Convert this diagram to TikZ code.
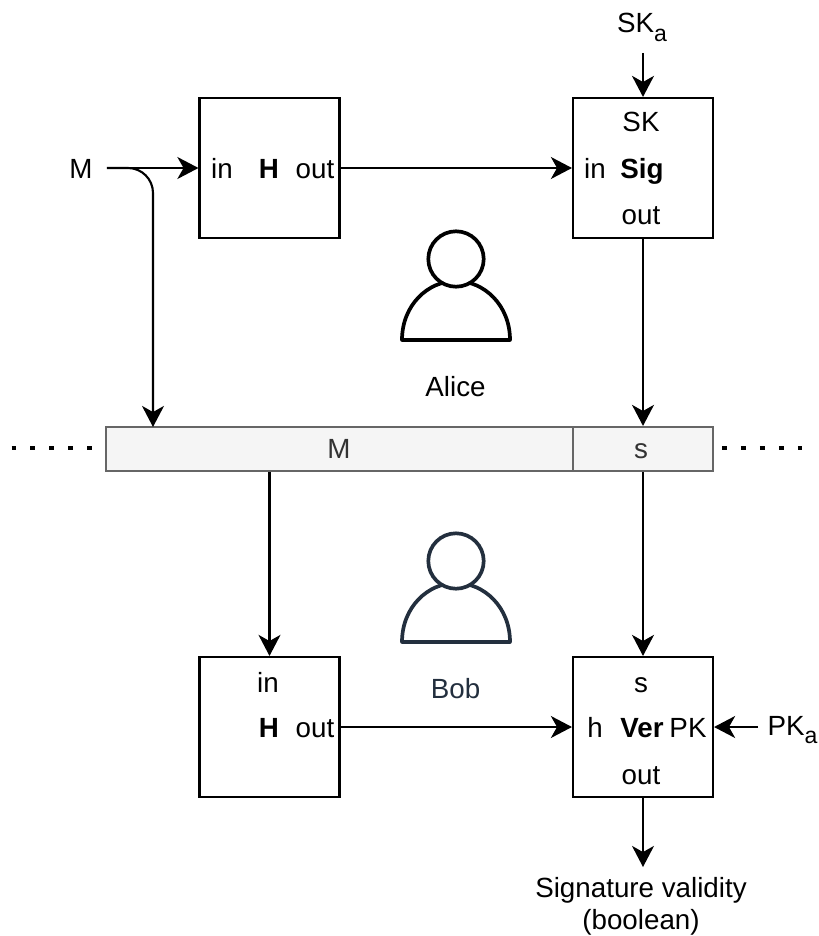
\documentclass[tikz,border=0pt]{standalone}
\usepackage{fontspec}
\setmainfont{Liberation Sans}
\usetikzlibrary{arrows.meta}
\definecolor{bobcol}{HTML}{232F3E}
\newcommand{\keysub}[1]{\raisebox{-0.3em}{\fontsize{13.1}{14}\selectfont #1}}
\tikzset{
  lbl/.style={anchor=base, inner sep=0pt, font=\fontsize{15.8}{18.1}\selectfont},
  blockbox/.style={draw, line width=1.2pt, minimum width=2.8cm, minimum height=2.8cm, inner sep=0pt},
  barcell/.style={draw=black!60, fill=black!4, line width=1.2pt, minimum height=0.88cm, inner sep=0pt},
  conn/.style={line width=1.2pt, -{Stealth[length=12pt, width=12.5pt, inset=3.5pt]}},
  dots/.style={line width=2.8pt, dash pattern=on 2.8pt off 8pt}
}
\begin{document}
\begin{tikzpicture}[x=0.02cm, y=-0.02cm]
  \useasboundingbox (0,0) rectangle (818,936);
  % Bloecke
  \node[blockbox] (hashA) at (269.5,168) {};
  \node[blockbox] (sigbox) at (643,168) {};
  \node[blockbox] (hashB) at (269.5,727) {};
  \node[blockbox] (verbox) at (643,727) {};
  % Kanal
  \node[barcell, minimum width=9.34cm] (barM) at (339.5,449) {};
  \node[barcell, minimum width=2.8cm] (barS) at (643,449) {};
  % Punkte
  \coordinate (dotsLa) at (11.5,448);
  \coordinate (dotsLb) at (92,448);
  \coordinate (dotsRa) at (722,448);
  \coordinate (dotsRb) at (802,448);
  \draw[dots] (dotsLa) -- (dotsLb);
  \draw[dots] (dotsRa) -- (dotsRb);
  % Beschriftungen oben
  \node[lbl, inner xsep=0.28cm, inner ysep=0.1cm] (msg) at (81,178.5) {M};
  \node[lbl] (hAin) at (222,178.5) {in};
  \node[lbl] (hAname) at (269,178.5) {\textbf{H}};
  \node[lbl] (hAout) at (315,178.5) {out};
  \node[lbl, inner ysep=0.22cm] (ska) at (642,33) {SK\keysub{a}};
  \node[lbl] (sigSK) at (641,132) {SK};
  \node[lbl] (sigin) at (595,178.5) {in};
  \node[lbl] (signame) at (642,178.5) {\textbf{Sig}};
  \node[lbl] (sigout) at (641,224.5) {out};
  % Beschriftungen Kanal
  \node[lbl, text=black!80] (barMtxt) at (339,458.5) {M};
  \node[lbl, text=black!80] (barStxt) at (641,458.5) {s};
  % Beschriftungen unten
  \node[lbl] (hBin) at (268,692) {in};
  \node[lbl] (hBname) at (269,737.5) {\textbf{H}};
  \node[lbl] (hBout) at (315,737.5) {out};
  \node[lbl] (vers) at (641,692) {s};
  \node[lbl] (verh) at (595,737.5) {h};
  \node[lbl] (vername) at (642,737.5) {\textbf{Ver}};
  \node[lbl] (verPK) at (688,737.5) {PK};
  \node[lbl] (verout) at (641,784) {out};
  \node[lbl, inner xsep=0.18cm] (pka) at (792.5,735) {PK\keysub{a}};
  \node[lbl, anchor=north, align=center, inner ysep=0.2cm] (valid) at (641,867) {Signature validity\\(boolean)};
  % Personen
  \foreach \who/\col/\dy in {Alice/black/0, Bob/bobcol/302} {
    \draw[\col, line width=2.1pt, line join=round, yshift=-\dy*0.02cm]
      (402,340) .. controls (402,305) and (428,281) .. (456,281)
      .. controls (484,281) and (510,305) .. (510,340) -- cycle;
    \draw[\col, fill=white, line width=2.1pt, yshift=-\dy*0.02cm] (456,259) circle (27.7*0.02cm);
    \node[lbl, text=\col] (name\who) at (455.5,396.5+\dy) {\who};
  }
  % Pfeile
  \coordinate (bartap) at (153,427);
  \draw[conn] (msg.east |- hashA.west) -- (hashA.west);
  \draw[conn, rounded corners=0.5cm] (msg.east |- hashA.west) -| (bartap);
  \draw[conn] (hashA.east) -- (sigbox.west);
  \draw[conn] (sigbox.north |- ska.south) -- (sigbox.north);
  \draw[conn] (sigbox.south) -- (barS.north);
  \draw[conn] (barM.south -| hashB.north) -- (hashB.north);
  \draw[conn] (barS.south) -- (verbox.north);
  \draw[conn] (hashB.east) -- (verbox.west);
  \draw[conn] (pka.west |- verbox.east) -- (verbox.east);
  \draw[conn] (verbox.south) -- (verbox.south |- valid.north);
\end{tikzpicture}
\end{document}
